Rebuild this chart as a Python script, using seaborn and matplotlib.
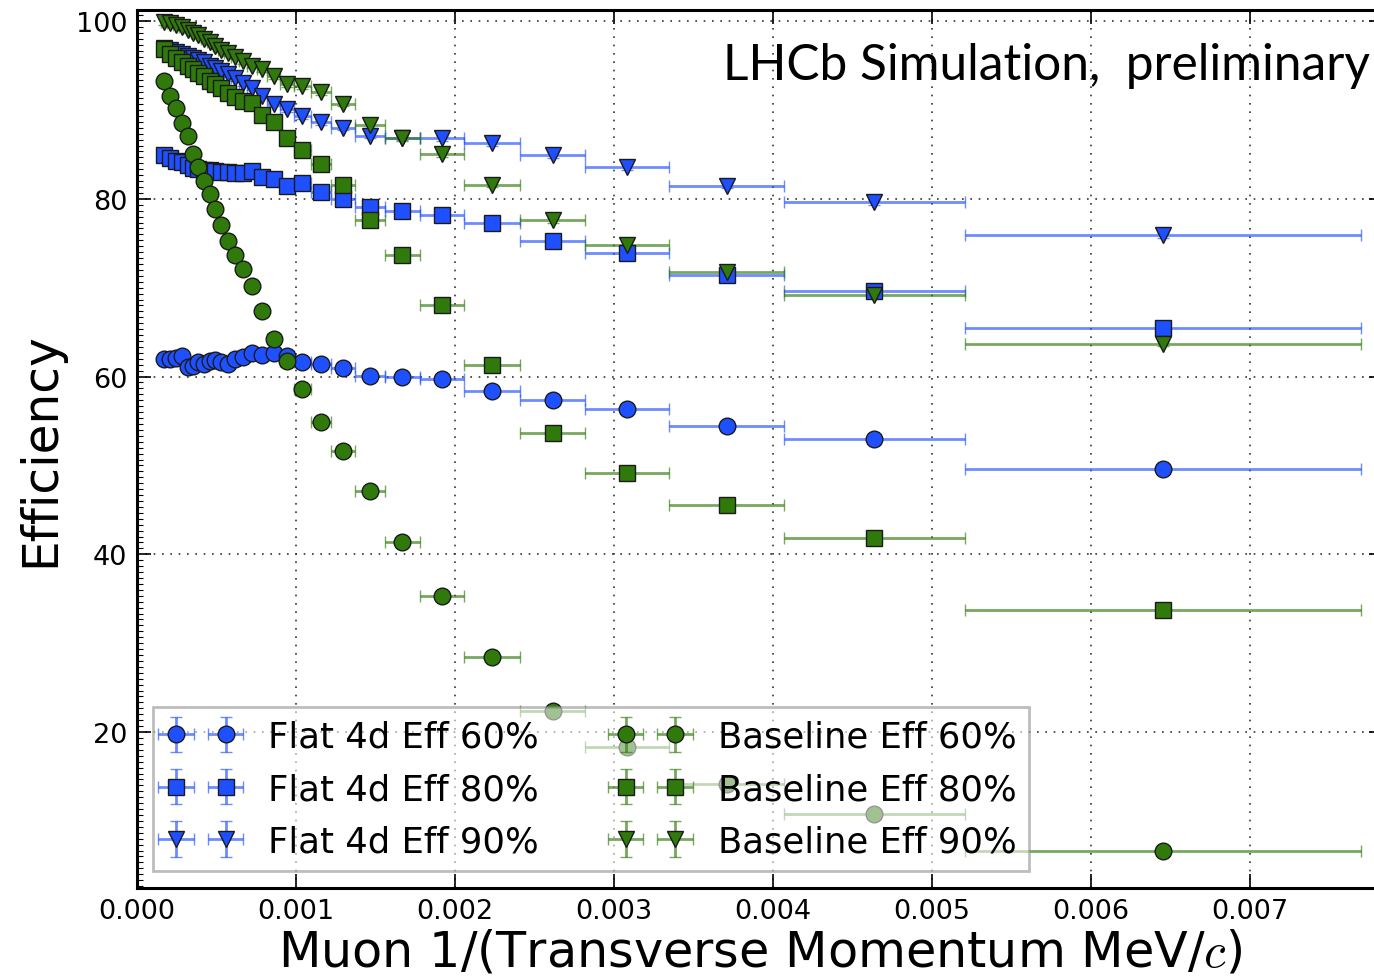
import numpy as np
import matplotlib
matplotlib.use("Agg")
import matplotlib.pyplot as plt
from matplotlib.ticker import AutoMinorLocator, FormatStrFormatter
from matplotlib.colors import to_rgba
import seaborn as sns

# Bin edges in 1/pT (1/MeV)
bin_edges = [0.000150, 0.000188, 0.000228, 0.000266, 0.000306, 0.000339,
             0.000369, 0.000402, 0.000438, 0.000476, 0.000510, 0.000547,
             0.000592, 0.000640, 0.000694, 0.000754, 0.000820, 0.000898,
             0.000988, 0.001094, 0.001219, 0.001371, 0.001560, 0.001780,
             0.002060, 0.002410, 0.002820, 0.003350, 0.004070, 0.005210,
             0.007700]

# Efficiencies (%) per bin
flat_60 = [62.0, 62.0, 62.05, 62.3, 61.1, 61.2, 61.6, 61.4, 61.8, 61.9,
           61.6, 61.4, 62.0, 62.2, 62.7, 62.4, 62.6, 62.3, 61.6, 61.4,
           61.0, 60.1, 60.0, 59.7, 58.4, 57.4, 56.4, 54.4, 53.0, 49.6]
flat_80 = [84.9, 84.6, 84.3, 84.1, 83.8, 83.5, 83.4, 83.3, 83.2, 83.1,
           83.0, 83.0, 82.9, 82.9, 83.1, 82.5, 82.2, 81.5, 81.8, 80.8,
           80.0, 79.1, 78.6, 78.2, 77.3, 75.2, 73.9, 71.4, 69.6, 65.5]
flat_90 = [97.0, 96.7, 96.5, 96.3, 96.1, 95.9, 95.6, 95.4, 95.0, 94.7,
           94.4, 94.0, 93.6, 93.0, 92.5, 91.6, 90.7, 90.1, 89.3, 88.6,
           88.0, 87.1, 86.9, 86.8, 86.3, 84.95, 83.6, 81.5, 79.6, 75.9]
base_60 = [93.3, 91.6, 90.2, 88.5, 87.1, 85.1, 83.6, 82.0, 80.5, 78.9,
           77.1, 75.3, 73.7, 72.1, 70.2, 67.4, 64.2, 61.7, 58.6, 54.9,
           51.6, 47.1, 41.4, 35.3, 28.4, 22.4, 18.3, 14.2, 10.8, 6.6]
base_80 = [96.9, 96.3, 95.9, 95.4, 94.9, 94.6, 94.2, 93.8, 93.3, 92.9,
           92.5, 91.9, 91.5, 91.0, 90.8, 89.4, 88.7, 86.8, 85.5, 83.9,
           81.6, 77.6, 73.7, 68.1, 61.3, 53.6, 49.2, 45.5, 41.8, 33.7]
base_90 = [99.9, 99.8, 99.55, 99.3, 99.0, 98.7, 98.4, 98.0, 97.6, 97.2,
           96.8, 96.4, 96.0, 95.5, 95.0, 94.6, 93.8, 92.9, 92.7, 92.0,
           90.7, 88.3, 86.8, 85.0, 81.6, 77.6, 74.8, 71.8, 69.2, 63.7]
eff_uncertainty = 0.3

series_labels = ["Flat 4d Eff 60%", "Flat 4d Eff 80%", "Flat 4d Eff 90%",
                 "Baseline Eff 60%", "Baseline Eff 80%", "Baseline Eff 90%"]
x_ticks = [0.000, 0.001, 0.002, 0.003, 0.004, 0.005, 0.006, 0.007]
y_ticks = [20, 40, 60, 80, 100]

sns.set_theme(style="ticks")
plt.rcParams["font.family"] = ["DejaVu Sans"]
plt.rcParams["mathtext.fontset"] = "cm"
for key in ("text.color", "axes.labelcolor", "xtick.color", "ytick.color",
            "xtick.labelcolor", "ytick.labelcolor"):
    plt.rcParams[key] = "black"

W, H, DPI = 1374, 979, 100
fig = plt.figure(figsize=(W / DPI, H / DPI), dpi=DPI)
ax = fig.add_axes([137 / W, 90 / H, 1246 / W, 878 / H])

edges = np.asarray(bin_edges)
centers = 0.5 * (edges[:-1] + edges[1:])
xlo = centers - edges[:-1]
xhi = edges[1:] - centers

blue = "#1f50ff"
green = "#2f7a0a"
series = [
    (flat_60, "o", blue), (flat_80, "s", blue), (flat_90, "v", blue),
    (base_60, "o", green), (base_80, "s", green), (base_90, "v", green),
]
for (vals, mk, col), lab in zip(series, series_labels):
    ax.errorbar(centers, vals, xerr=[xlo, xhi], yerr=eff_uncertainty,
                fmt=mk, color=col, mec="#1a1a1a", mew=1.0,
                ms=12 if mk != "s" else 11,
                ecolor=to_rgba(col, 0.65), elinewidth=2.0, capsize=4,
                capthick=1.5, label=lab, zorder=3)

ax.set_xlim(0, 0.00784)
ax.set_ylim(2.45, 101.25)
ax.set_xticks(x_ticks)
ax.set_yticks(y_ticks)
ax.yaxis.set_minor_locator(AutoMinorLocator(30))
ax.xaxis.set_major_formatter(FormatStrFormatter("%.3f"))
ax.yaxis.set_major_formatter(FormatStrFormatter("%d"))

ax.tick_params(which="both", direction="in", top=True, right=True,
               colors="black", labelsize=19.5)
ax.tick_params(which="major", length=10, width=1.2)
ax.tick_params(which="minor", length=4, width=0.8)
ax.tick_params(axis="x", pad=7)
ax.tick_params(axis="y", pad=7)

ax.grid(True, which="major", linestyle=(0, (1, 4)), color="#333333", linewidth=1.2)
for sp in ax.spines.values():
    sp.set_color("black")
    sp.set_linewidth(2.2)

ax.set_xlabel(r"Muon 1/(Transverse Momentum MeV/$c$)", fontsize=35.5, labelpad=3)
ax.set_ylabel("Efficiency", fontsize=35, labelpad=8)

leg = ax.legend(loc="lower left", bbox_to_anchor=(0.0128, 0.0194),
                borderaxespad=0, ncol=2, numpoints=2, fontsize=25.5,
                framealpha=0.55, fancybox=False, edgecolor="#888888",
                handlelength=2.0, handletextpad=0.9, columnspacing=2.15,
                labelspacing=0.52, borderpad=0.35)
leg.get_frame().set_linewidth(2.0)
leg.set_zorder(5)

# Simulation tag in the upper right
tag = fig.text(1370 / W, 1 - 80 / H, "LHCb Simulation,  preliminary",
               ha="right", va="baseline", fontsize=36, color="black",
               family=["Lato", "DejaVu Sans"])
fig.canvas.draw()
w = tag.get_window_extent().width
tag.set_fontsize(36 * 648 / w)

fig.savefig("out.png", dpi=DPI)
